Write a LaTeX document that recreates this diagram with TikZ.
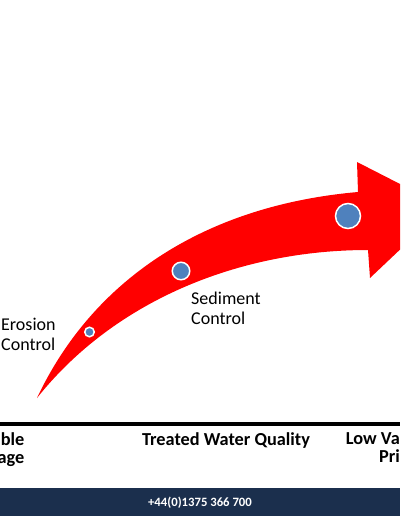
\documentclass[tikz,border=0pt]{standalone}
\usepackage{fontspec}
\setmainfont{Carlito}
\definecolor{navyBand}{HTML}{1B2F4D}
\definecolor{dotBlue}{HTML}{4F81BD}
\begin{document}
\begin{tikzpicture}[x=1pt,y=-1pt]
  \tikzstyle{labelStyle}=[font=\fontsize{18}{20}\selectfont, align=left, inner sep=0pt]
  \tikzstyle{axisStyle}=[font=\bfseries\fontsize{18.3}{18}\selectfont, inner sep=0pt]
  \tikzstyle{dotStyle}=[circle, fill=dotBlue, draw=white, line width=1.5pt, inner sep=0pt]
  \tikzstyle{phoneStyle}=[font=\bfseries\fontsize{12.7}{14}\selectfont, text=white, inner sep=0pt]

  \useasboundingbox (0,0) rectangle (400,516);
  \clip (0,0) rectangle (400,516);

  % curved arrow
  \fill[red] (37,398) .. controls (95,275) and (210,205) .. (358,192) -- (357,162) -- (445,207)
    -- (370,278) -- (368,250) .. controls (240,250) and (115,300) .. (37,398) -- cycle;

  \node[dotStyle, minimum size=9.5pt](dotErosion) at (89.5,332) {};
  \node[dotStyle, minimum size=17.5pt](dotSediment) at (181,271) {};
  \node[dotStyle, minimum size=25pt](dotTop) at (348,216) {};

  \node[labelStyle, anchor=west](erosion) at (1,334) {Erosion\\Control};
  \node[labelStyle, anchor=west](sediment) at (191,308) {Sediment\\Control};

  % axis
  \draw[line width=3.5pt] (0,424) -- (400,424);
  \node[axisStyle, align=right, anchor=north east](storage) at (24.5,432) {ble\\age};
  \node[axisStyle, anchor=base](quality) at (226,445) {Treated Water Quality};
  \node[axisStyle, align=right, anchor=north east](price) at (400,432) {Low Va\\Pri};

  % footer
  \fill[navyBand] (0,488) rectangle (400,516);
  \node[phoneStyle](phone) at (200,503) {+44(0)1375 366 700};
\end{tikzpicture}
\end{document}
